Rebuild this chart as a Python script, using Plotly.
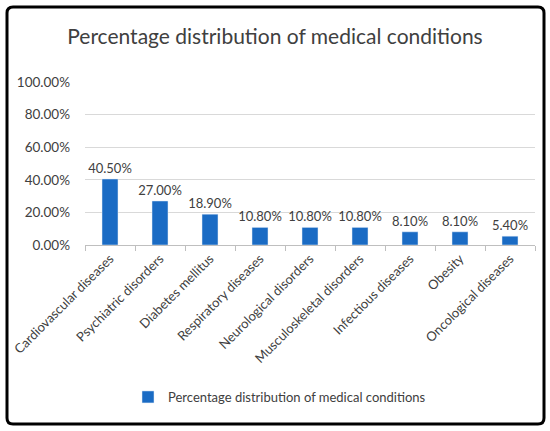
import plotly.graph_objects as go

conditions = [
    "Cardiovascular diseases",
    "Psychiatric disorders",
    "Diabetes mellitus",
    "Respiratory diseases",
    "Neurological disorders",
    "Musculoskeletal disorders",
    "Infectious diseases",
    "Obesity",
    "Oncological diseases",
]
shares = [0.405, 0.27, 0.189, 0.108, 0.108, 0.108, 0.081, 0.081, 0.054]
series_name = "Percentage distribution of medical conditions"

W, H = 550, 431
L, R, T, B = 85, 15, 82, 186
pw, ph = W - L - R, H - T - B


def px_x(x):
    return (x - L) / pw


def px_y(y):
    return (H - B - y) / ph


text_color = "#404040"
font_family = "Lato, Calibri, sans-serif"

fig = go.Figure(
    go.Bar(
        x=conditions,
        y=shares,
        name=series_name,
        marker_color="#1a6bc4",
        width=0.32,
        text=[f"{v:.2%}" for v in shares],
        textposition="outside",
        constraintext="none",
        textfont=dict(size=13, color=text_color),
        cliponaxis=False,
    )
)

fig.update_layout(
    width=W,
    height=H,
    margin=dict(l=L, r=R, t=T, b=B),
    paper_bgcolor="white",
    plot_bgcolor="white",
    font=dict(family=font_family, color=text_color),
    title=dict(
        text=series_name,
        x=0.5,
        xanchor="center",
        y=1 - 37 / H,
        yanchor="middle",
        font=dict(size=21, color=text_color),
    ),
    showlegend=True,
    legend=dict(
        orientation="h",
        x=px_x(128),
        xanchor="left",
        y=px_y(397),
        yanchor="middle",
        font=dict(size=13, color=text_color),
    ),
    bargap=0.68,
)

fig.update_yaxes(
    range=[0, 1],
    dtick=0.2,
    tickformat=".2%",
    showgrid=True,
    gridcolor="#d9d9d9",
    zeroline=False,
    showline=False,
    tickfont=dict(size=13.5, color=text_color),
    ticklabelstandoff=14,
)
fig.update_xaxes(
    showline=True,
    linecolor="#bfbfbf",
    ticks="outside",
    tickson="boundaries",
    tickcolor="#bfbfbf",
    ticklen=5,
    tickangle=-45,
    tickfont=dict(size=13, color=text_color),
)

# rounded black frame around the whole chart
x0, x1 = px_x(7), px_x(544)
y0, y1 = px_y(424), px_y(7)
rx, ry = 6 / pw, 6 / ph
frame = (
    f"M {x0 + rx},{y1} L {x1 - rx},{y1} Q {x1},{y1} {x1},{y1 - ry} "
    f"L {x1},{y0 + ry} Q {x1},{y0} {x1 - rx},{y0} "
    f"L {x0 + rx},{y0} Q {x0},{y0} {x0},{y0 + ry} "
    f"L {x0},{y1 - ry} Q {x0},{y1} {x0 + rx},{y1} Z"
)
fig.add_shape(
    type="path",
    path=frame,
    xref="paper",
    yref="paper",
    line=dict(color="black", width=3),
)

# the page's default body margin would push the figure off the window
fig.write_html(
    "out.html",
    config={"displayModeBar": False},
    post_script="document.body.style.margin='0';",
)
